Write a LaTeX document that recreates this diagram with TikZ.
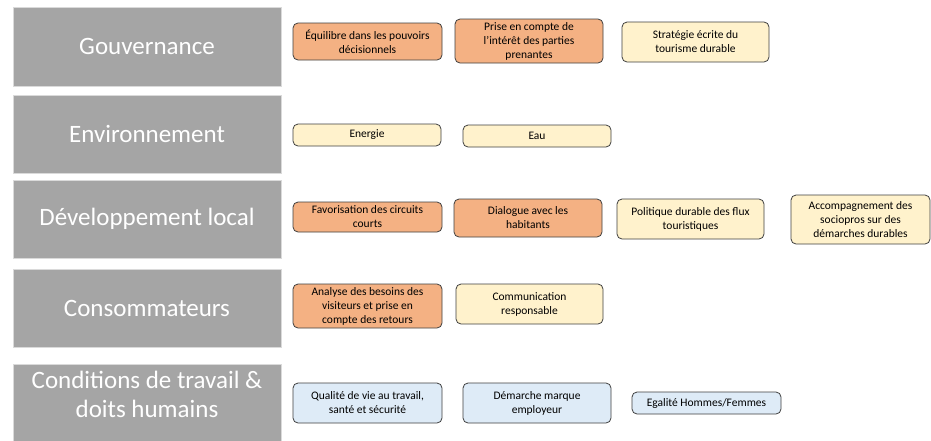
\documentclass[tikz,border=0pt]{standalone}
\usepackage{fontspec}
\setmainfont{Carlito}
\definecolor{catgray}{HTML}{A5A5A5}
\definecolor{catedge}{HTML}{DADADA}
\definecolor{orangefill}{HTML}{F4B183}
\definecolor{yellowfill}{HTML}{FFF2CC}
\definecolor{bluefill}{HTML}{DEEBF7}
\definecolor{boxedge}{HTML}{404040}
\begin{document}
\begin{tikzpicture}[x=1pt,y=-1pt,
  catbox/.style={rectangle, fill=catgray, draw=catedge, line width=1pt, inner sep=0pt,
    minimum width=268pt, text=white, font=\fontsize{25}{29}\selectfont, align=center},
  item/.style={rectangle, rounded corners=5pt, draw=boxedge, line width=0.8pt, inner sep=0pt,
    text=black, font=\fontsize{11.5}{14}\selectfont, align=center},
  orangebox/.style={item, fill=orangefill},
  yellowbox/.style={item, fill=yellowfill},
  bluebox/.style={item, fill=bluefill},
  cattext/.style={text=white, font=\fontsize{25}{29}\selectfont, align=center, inner sep=0pt}
]
\useasboundingbox[fill=white] (0,0) rectangle (931,440);

% category boxes
\node[catbox, minimum height=79pt] (gov) at (147,46.5) {Gouvernance};
\node[catbox, minimum height=78pt] (env) at (147,134) {Environnement};
\node[catbox, minimum height=78pt] (dev) at (147,219) {Développement local};
\node[catbox, minimum height=78pt] (con) at (147,308) {Consommateurs};
\node[catbox, minimum height=84pt] (cond) at (147,406) {};
\node[cattext] (condtxt) at (147,394) {Conditions de travail \&\\doits humains};

% Gouvernance
\node[orangebox, minimum width=149pt, minimum height=37pt] (g1) at (367.5,41.5) {Équilibre dans les pouvoirs\\décisionnels};
\node[orangebox, minimum width=148pt, minimum height=44pt] (g2) at (529,41) {Prise en compte de\\l'intérêt des parties\\prenantes};
\node[yellowbox, minimum width=147pt, minimum height=40pt] (g3) at (695.5,42) {Stratégie écrite du\\tourisme durable};

% Environnement
\node[yellowbox, minimum width=148pt, minimum height=22pt] (e1) at (367,135) {Energie};
\node[yellowbox, minimum width=148pt, minimum height=22pt] (e2) at (537,136) {Eau};

% Developpement local
\node[orangebox, minimum width=149pt, minimum height=30pt] (d1) at (367.5,217) {Favorisation des circuits\\courts};
\node[orangebox, minimum width=148pt, minimum height=38pt] (d2) at (528,218) {Dialogue avec les\\habitants};
\node[yellowbox, minimum width=147pt, minimum height=40pt] (d3) at (690.5,219) {Politique durable des flux\\touristiques};
\node[yellowbox, minimum width=139pt, minimum height=49pt] (d4) at (860.5,219.5) {Accompagnement des\\sociopros sur des\\démarches durables};

% Consommateurs
\node[orangebox, minimum width=149pt, minimum height=44pt] (c1) at (367.5,306) {Analyse des besoins des\\visiteurs et prise en\\compte des retours};
\node[yellowbox, minimum width=147pt, minimum height=40pt] (c2) at (529.5,304) {Communication\\responsable};

% Conditions de travail
\node[bluebox, minimum width=149pt, minimum height=40pt] (w1) at (367.5,403) {Qualité de vie au travail,\\santé et sécurité};
\node[bluebox, minimum width=148pt, minimum height=40pt] (w2) at (537,403) {Démarche marque\\employeur};
\node[bluebox, minimum width=149pt, minimum height=22pt] (w3) at (706.5,403) {Egalité Hommes/Femmes};
\end{tikzpicture}
\end{document}
